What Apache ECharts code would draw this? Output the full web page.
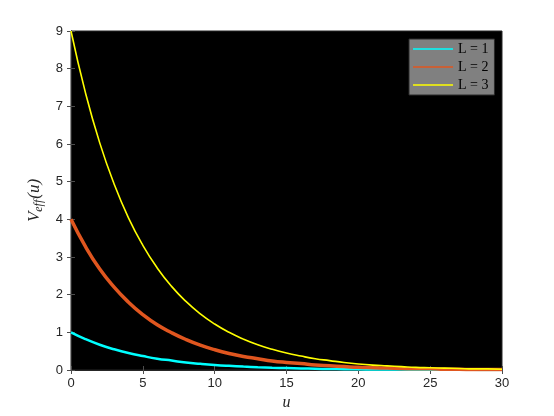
<!DOCTYPE html>
<html>
<head>
<meta charset="utf-8">
<script src="https://cdn.jsdelivr.net/npm/echarts@6/dist/echarts.min.js"></script>
<style>html,body{margin:0;padding:0;background:#fff;}#c{width:554px;height:416px;}</style>
</head>
<body>
<div id="c"></div>
<script>
const uValues = [0,1,2,3,4,5,6,7,8,9,10,11,12,13,14,15,16,17,18,19,20,21,22,23,24,25,26,27,28,29,30];
const vL1 = [1.00,0.82,0.67,0.55,0.45,0.37,0.30,0.25,0.20,0.165,0.135,0.111,0.091,0.074,0.061,0.050,0.041,0.033,0.027,0.022,0.018,0.015,0.012,0.010,0.008,0.007,0.006,0.005,0.004,0.003,0.003];
const vL2 = [4.00,3.28,2.68,2.20,1.80,1.47,1.20,0.99,0.81,0.66,0.54,0.44,0.36,0.30,0.24,0.20,0.17,0.13,0.11,0.09,0.07,0.06,0.05,0.04,0.03,0.03,0.02,0.02,0.01,0.01,0.01];
const vL3 = [9.00,7.37,6.03,4.94,4.04,3.31,2.71,2.22,1.82,1.49,1.22,1.00,0.82,0.67,0.55,0.45,0.37,0.30,0.25,0.20,0.16,0.13,0.11,0.09,0.07,0.06,0.05,0.04,0.03,0.03,0.02];
const seriesNames = ['L = 1','L = 2','L = 3'];
const seriesColors = ['#00ffff','#e0561f','#ffff00'];

function pairs(ys){ return uValues.map((u,i)=>[u, ys[i]]); }

const chart = echarts.init(document.getElementById('c'), null, {renderer:'canvas'});
const tickFont = {fontFamily:'Liberation Sans', fontSize:13, color:'#262626'};
const axisCommonX = {
  type:'value', min:0, max:30, interval:5,
  axisLine:{show:true, lineStyle:{color:'#262626', width:1}},
  axisTick:{show:true, inside:true, length:4, lineStyle:{color:'#4d4d4d'}},
  splitLine:{show:false}
};
const axisCommonY = {
  type:'value', min:0, max:9, interval:1,
  axisLine:{show:true, lineStyle:{color:'#262626', width:1}},
  axisTick:{show:true, inside:true, length:4, lineStyle:{color:'#4d4d4d'}},
  splitLine:{show:false}
};
const lineIcon = 'path://M0,0H40V1.6H0Z';
chart.setOption({
  animation:false,
  backgroundColor:'#ffffff',
  grid:{left:71, right:52, top:31, bottom:46, show:true, backgroundColor:'#000000', borderColor:'#262626', borderWidth:1},
  xAxis:[
    Object.assign({}, axisCommonX, {
      position:'bottom',
      axisLabel:Object.assign({margin:7}, tickFont),
      name:'u', nameLocation:'middle', nameGap:19,
      nameTextStyle:{fontFamily:'Liberation Serif', fontStyle:'italic', fontSize:16, color:'#262626'}
    }),
    Object.assign({}, axisCommonX, {position:'top', axisLabel:{show:false}})
  ],
  yAxis:[
    Object.assign({}, axisCommonY, {
      position:'left',
      axisLabel:Object.assign({margin:8}, tickFont),
      name:'{v|V}{s|eff}{v|(u)}', nameLocation:'middle', nameGap:26, nameRotate:90,
      nameTextStyle:{
        color:'#262626',
        rich:{
          v:{fontFamily:'Liberation Serif', fontStyle:'italic', fontSize:17, color:'#262626'},
          s:{fontFamily:'Liberation Serif', fontStyle:'italic', fontSize:12, color:'#262626', padding:[8,1,0,0]}
        }
      }
    }),
    Object.assign({}, axisCommonY, {position:'right', axisLabel:{show:false}})
  ],
  legend:{
    left:409, top:39, orient:'vertical',
    backgroundColor:'#808080', borderColor:'#2a2a2a', borderWidth:1,
    padding:[3,6,3,4], itemGap:4, itemWidth:40, itemHeight:12,
    textStyle:{fontFamily:'Liberation Serif', fontSize:14, color:'#000'},
    data:seriesNames.map((n)=>({name:n, icon:lineIcon}))
  },
  series:[
    {name:seriesNames[0], type:'line', data:pairs(vL1), smooth:0.5, symbol:'none',
     lineStyle:{color:seriesColors[0], width:2.5}, itemStyle:{color:seriesColors[0]}, z:3},
    {name:seriesNames[1], type:'line', data:pairs(vL2), smooth:0.5, symbol:'none',
     lineStyle:{color:seriesColors[1], width:3.5}, itemStyle:{color:seriesColors[1]}, z:4},
    {name:seriesNames[2], type:'line', data:pairs(vL3), smooth:0.5, symbol:'none',
     lineStyle:{color:seriesColors[2], width:1.6}, itemStyle:{color:seriesColors[2]}, z:5}
  ]
});
</script>
</body>
</html>
